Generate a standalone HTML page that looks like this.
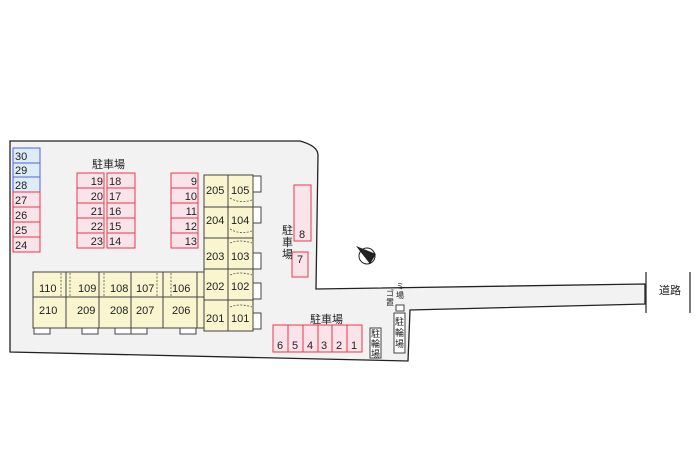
<!DOCTYPE html>
<html><head><meta charset="utf-8"><style>
html,body{margin:0;padding:0;background:#fff}
svg{display:block}
text{font-family:"Liberation Sans","Noto Sans CJK JP",sans-serif;font-size:11px;fill:#222}
</style></head><body>
<svg width="700" height="466" viewBox="0 0 700 466" xmlns="http://www.w3.org/2000/svg">
<path d="M10,141 L300,141 Q318,146 318,155 L316,289 L645,284 L645,304 L410,310 L408,361 L10,352 Z" fill="#f2f2f2" stroke="#222" stroke-width="1.3"/>
<line x1="646" y1="272" x2="646" y2="313" stroke="#333" stroke-width="1.3"/>
<line x1="690" y1="272" x2="690" y2="313" stroke="#333" stroke-width="1.3"/>
<text x="659" y="294">道路</text>

<g stroke-width="1">
<rect x="13" y="148" width="27" height="44" fill="#dcedf8" stroke="#5560e0"/>
<line x1="13" y1="163" x2="40" y2="163" stroke="#5560e0"/>
<line x1="13" y1="177" x2="40" y2="177" stroke="#5560e0"/>
<rect x="13" y="192" width="27" height="60" fill="#fbe3ea" stroke="#e8384f"/>
<line x1="13" y1="207" x2="40" y2="207" stroke="#e8384f"/>
<line x1="13" y1="222" x2="40" y2="222" stroke="#e8384f"/>
<line x1="13" y1="237" x2="40" y2="237" stroke="#e8384f"/>
</g>
<text x="15" y="160">30</text><text x="15" y="174">29</text><text x="15" y="189">28</text>
<text x="15" y="204">27</text><text x="15" y="219">26</text><text x="15" y="234">25</text><text x="15" y="249">24</text>

<text x="92" y="168">駐車場</text>
<g fill="#fbe3ea" stroke="#e8384f">
<rect x="77" y="173" width="27" height="75"/>
<rect x="107" y="173" width="28" height="75"/>
<rect x="171" y="173" width="27" height="75"/>
</g>
<g stroke="#e8384f">
<line x1="77" y1="188" x2="104" y2="188"/><line x1="77" y1="203" x2="104" y2="203"/><line x1="77" y1="218" x2="104" y2="218"/><line x1="77" y1="233" x2="104" y2="233"/>
<line x1="107" y1="188" x2="135" y2="188"/><line x1="107" y1="203" x2="135" y2="203"/><line x1="107" y1="218" x2="135" y2="218"/><line x1="107" y1="233" x2="135" y2="233"/>
<line x1="171" y1="188" x2="198" y2="188"/><line x1="171" y1="203" x2="198" y2="203"/><line x1="171" y1="218" x2="198" y2="218"/><line x1="171" y1="233" x2="198" y2="233"/>
</g>
<g text-anchor="end">
<text x="103" y="185">19</text><text x="103" y="200">20</text><text x="103" y="215">21</text><text x="103" y="230">22</text><text x="103" y="245">23</text>
<text x="197" y="185">9</text><text x="197" y="200">10</text><text x="197" y="215">11</text><text x="197" y="230">12</text><text x="197" y="245">13</text>
</g>
<text x="109" y="185">18</text><text x="109" y="200">17</text><text x="109" y="215">16</text><text x="109" y="230">15</text><text x="109" y="245">14</text>

<rect x="204" y="175" width="49" height="156" fill="#f8f5cf" stroke="#444"/>
<line x1="228" y1="175" x2="228" y2="331" stroke="#444"/>
<g stroke="#444">
<line x1="204" y1="207" x2="253" y2="207"/><line x1="204" y1="238" x2="253" y2="238"/><line x1="204" y1="269" x2="253" y2="269"/><line x1="204" y1="300" x2="253" y2="300"/>
</g>
<g fill="#fff" stroke="#444">
<rect x="253" y="176" width="8" height="16"/><rect x="253" y="207" width="8" height="16"/><rect x="253" y="253" width="8" height="16"/><rect x="253" y="283" width="8" height="16"/><rect x="253" y="313" width="8" height="16"/>
</g>
<g stroke="#555" fill="none" stroke-dasharray="2,1.5" stroke-width="0.8">
<path d="M230,198 q10,6 22,2"/><path d="M230,229 q10,6 22,2"/><path d="M230,243 q10,-4 22,0"/><path d="M230,275 q10,-4 22,0"/><path d="M230,307 q10,-4 22,0"/>
<line x1="228" y1="192" x2="228" y2="204"/>
</g>
<text x="206" y="194">205</text><text x="231" y="194">105</text>
<text x="206" y="224">204</text><text x="231" y="224">104</text>
<text x="206" y="260">203</text><text x="231" y="260">103</text>
<text x="206" y="290">202</text><text x="231" y="290">102</text>
<text x="206" y="322">201</text><text x="231" y="322">101</text>

<rect x="33" y="272" width="171" height="56" fill="#f8f5cf" stroke="#444"/>
<g stroke="#444">
<line x1="33" y1="297" x2="204" y2="297"/>
<line x1="66" y1="272" x2="66" y2="328"/><line x1="99" y1="272" x2="99" y2="328"/><line x1="131" y1="272" x2="131" y2="328"/><line x1="163" y1="272" x2="163" y2="328"/><line x1="197" y1="272" x2="197" y2="328"/>
</g>
<g stroke="#555" stroke-dasharray="2,1.5" stroke-width="0.8">
<line x1="61" y1="273" x2="61" y2="296"/><line x1="70" y1="273" x2="70" y2="296"/><line x1="104" y1="273" x2="104" y2="296"/><line x1="157" y1="273" x2="157" y2="296"/><line x1="171" y1="273" x2="171" y2="296"/>
</g>
<g fill="#fff" stroke="#444">
<rect x="34" y="328" width="16" height="6"/><rect x="82" y="328" width="16" height="6"/><rect x="115" y="328" width="16" height="6"/><rect x="131" y="328" width="16" height="6"/><rect x="180" y="328" width="16" height="6"/>
</g>
<text x="39" y="292">110</text><text x="78" y="292">109</text><text x="110" y="292">108</text><text x="136" y="292">107</text><text x="172" y="292">106</text>
<text x="39" y="314">210</text><text x="77" y="314">209</text><text x="110" y="314">208</text><text x="136" y="314">207</text><text x="172" y="314">206</text>

<rect x="294" y="185" width="17" height="56" fill="#fbe3ea" stroke="#e8384f"/>
<rect x="292" y="252" width="16" height="25" fill="#fbe3ea" stroke="#e8384f"/>
<text x="299" y="238">8</text><text x="297" y="263">7</text>
<text x="282" y="234">駐</text><text x="282" y="246">車</text><text x="282" y="258">場</text>

<text x="310" y="323">駐車場</text>
<rect x="273" y="325" width="89" height="27" fill="#fbe3ea" stroke="#e8384f"/>
<g stroke="#e8384f">
<line x1="288" y1="325" x2="288" y2="352"/><line x1="303" y1="325" x2="303" y2="352"/><line x1="318" y1="325" x2="318" y2="352"/><line x1="332" y1="325" x2="332" y2="352"/><line x1="347" y1="325" x2="347" y2="352"/>
</g>
<text x="277" y="349">6</text><text x="292" y="349">5</text><text x="307" y="349">4</text><text x="321" y="349">3</text><text x="336" y="349">2</text><text x="351" y="349">1</text>

<rect x="370" y="328" width="11" height="30" fill="#fff" stroke="#444"/>
<text x="371" y="337" style="font-size:9px">駐</text><text x="371" y="347" style="font-size:9px">輪</text><text x="371" y="357" style="font-size:9px">場</text>
<rect x="394" y="313" width="11" height="40" fill="#fff" stroke="#444"/>
<text x="395" y="325" style="font-size:9px">駐</text><text x="395" y="336" style="font-size:9px">輪</text><text x="395" y="347" style="font-size:9px">場</text>
<rect x="396" y="305" width="8" height="6" fill="#fff" stroke="#444"/>
<text x="386" y="296" style="font-size:8px">ゴ</text><text x="386" y="305" style="font-size:8px">置</text>
<text x="396" y="289" style="font-size:8px">ミ</text><text x="396" y="298" style="font-size:8px">場</text>

<circle cx="367" cy="256" r="8" fill="#fff" stroke="#222"/>
<path d="M356,246 L376,254 L370,264 Z" fill="#222"/>
</svg>
</body></html>
